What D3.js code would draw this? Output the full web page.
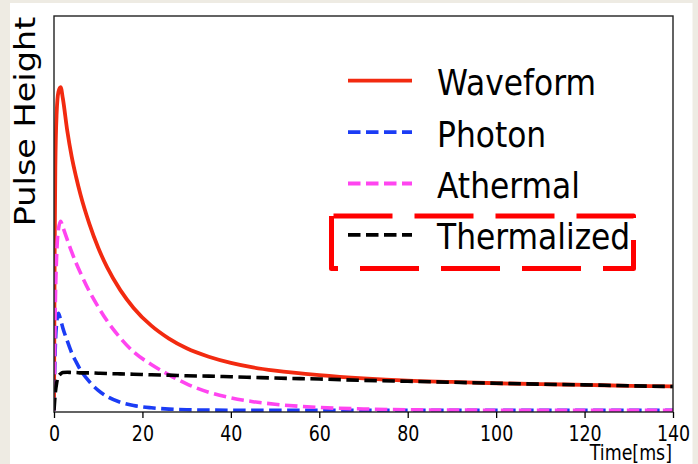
<!DOCTYPE html>
<html><head><meta charset="utf-8">
<script src="https://cdn.jsdelivr.net/npm/d3@7"></script>
<style>
html,body{margin:0;padding:0;background:#eeebe3;}
svg{display:block;}
</style></head>
<body>
<svg id="chart" width="698" height="464"></svg>
<script>
// ---- data ----
const time = [0, 0.15, 0.3, 0.6, 1, 1.5, 2, 3, 4, 5, 6, 8, 10, 12, 15, 18, 22, 26, 30, 35, 40, 45, 50, 60, 70, 80, 90, 100, 110, 120, 130, 140];
const waveform = [0, 0.5, 0.75, 0.92, 0.985, 1.0, 0.965, 0.865, 0.785, 0.722, 0.667, 0.577, 0.503, 0.443, 0.372, 0.317, 0.262, 0.222, 0.192, 0.166, 0.147, 0.133, 0.123, 0.109, 0.099, 0.092, 0.088, 0.084, 0.081, 0.079, 0.076, 0.074];
const photon = [0, 0.12, 0.2, 0.27, 0.3, 0.28, 0.255, 0.215, 0.178, 0.15, 0.125, 0.089, 0.062, 0.043, 0.025, 0.015, 0.008, 0.004, 0.002, 0.001, 0.0005, 0, 0, 0, 0, 0, 0, 0, 0, 0, 0, 0];
const athermal = [0, 0.18, 0.33, 0.48, 0.56, 0.585, 0.567, 0.528, 0.49, 0.456, 0.425, 0.368, 0.32, 0.277, 0.224, 0.181, 0.142, 0.11, 0.082, 0.056, 0.039, 0.027, 0.019, 0.009, 0.0045, 0.002, 0.001, 0.0005, 0, 0, 0, 0];
const thermalized = [0, 0.03, 0.055, 0.085, 0.105, 0.113, 0.117, 0.118, 0.117, 0.117, 0.116, 0.116, 0.115, 0.114, 0.113, 0.112, 0.110, 0.109, 0.107, 0.106, 0.104, 0.102, 0.100, 0.097, 0.093, 0.090, 0.087, 0.084, 0.081, 0.079, 0.076, 0.074];
const seriesNames = ["Waveform", "Photon", "Athermal", "Thermalized"];
const seriesValues = [waveform, photon, athermal, thermalized];
const seriesColors = ["#f22a10", "#1b3cf5", "#ff45f0", "#000000"];
const seriesDashed = [false, true, true, true];
const xTicks = [0, 20, 40, 60, 80, 100, 120, 140];
const xLabel = "Time[ms]";
const yLabel = "Pulse Height";

// ---- layout ----
const svg = d3.select("#chart");
const SX = 0.85; // horizontal squeeze of text glyphs
const L = 54, R = 673, T = 16, B = 412;

svg.append("rect").attr("x", 10).attr("y", 3).attr("width", 682.5).attr("height", 470).attr("fill", "#ffffff");

const x = d3.scaleLinear().domain([0, 140]).range([L, R]);
const y = d3.scaleLinear().domain([-0.005, 1.22]).range([B, T]);

svg.append("clipPath").attr("id", "clip").append("rect")
  .attr("x", L).attr("y", T).attr("width", R - L).attr("height", B - T);

const line = d3.line().x(d => x(d[0])).y(d => y(d[1])).curve(d3.curveMonotoneX);
const g = svg.append("g").attr("clip-path", "url(#clip)");
seriesValues.forEach((vals, i) => {
  g.append("path")
    .datum(time.map((t, k) => [t, vals[k]]))
    .attr("d", line)
    .attr("fill", "none")
    .attr("stroke", seriesColors[i])
    .attr("stroke-width", i === 0 ? 3.8 : 3.6)
    .attr("stroke-dasharray", seriesDashed[i] ? "12.5,5.5" : null)
    .attr("stroke-linejoin", "round");
});

// frame
svg.append("rect").attr("x", L).attr("y", T).attr("width", R - L).attr("height", B - T)
  .attr("fill", "none").attr("stroke", "#222").attr("stroke-width", 1.4);

// x axis
const ax = svg.append("g").attr("transform", `translate(0,${B})`)
  .call(d3.axisBottom(x).tickValues(xTicks).tickFormat(d3.format("d")).tickSize(6).tickPadding(4));
ax.select(".domain").remove();
ax.selectAll(".tick line").attr("stroke", "#000").attr("stroke-width", 1.3);
ax.selectAll(".tick text")
  .attr("font-family", "DejaVu Sans, sans-serif").attr("font-size", 20.5).attr("fill", "#000")
  .attr("y", 0).attr("dy", null)
  .attr("transform", `translate(0,29) scale(${SX},1)`);

// x label
svg.append("text").attr("transform", `translate(672,460) scale(${SX},1)`)
  .attr("text-anchor", "end").attr("font-family", "DejaVu Sans, sans-serif")
  .attr("font-size", 20.5).attr("fill", "#000").text(xLabel);

// y label
svg.append("text").attr("transform", `translate(35,121.5) scale(${SX},1) rotate(-90)`)
  .attr("text-anchor", "middle").attr("font-family", "DejaVu Sans, sans-serif")
  .attr("font-size", 33.5).attr("fill", "#000").text(yLabel);

// legend
const legY0 = 80.7, legDy = 51.4;
seriesNames.forEach((name, i) => {
  const ly = legY0 + i * legDy;
  svg.append("line").attr("x1", 348).attr("x2", 412).attr("y1", ly).attr("y2", ly)
    .attr("stroke", seriesColors[i]).attr("stroke-width", 3.8)
    .attr("stroke-dasharray", seriesDashed[i] ? "12.5,5.5" : null);
  svg.append("text").attr("transform", `translate(437,${ly + 14.5}) scale(0.87,1)`)
    .attr("font-family", "DejaVu Sans, sans-serif").attr("font-size", 36)
    .attr("fill", "#000").text(name);
});

// red dashed highlight box around "Thermalized"
svg.append("path")
  .attr("d", "M331.5,216 L331.5,268.5 L633.5,268.5 L633.5,216 Z")
  .attr("fill", "none").attr("stroke", "#ff0000").attr("stroke-width", 5)
  .attr("stroke-dasharray", "59,22").attr("stroke-linejoin", "round");
</script>
</body></html>
